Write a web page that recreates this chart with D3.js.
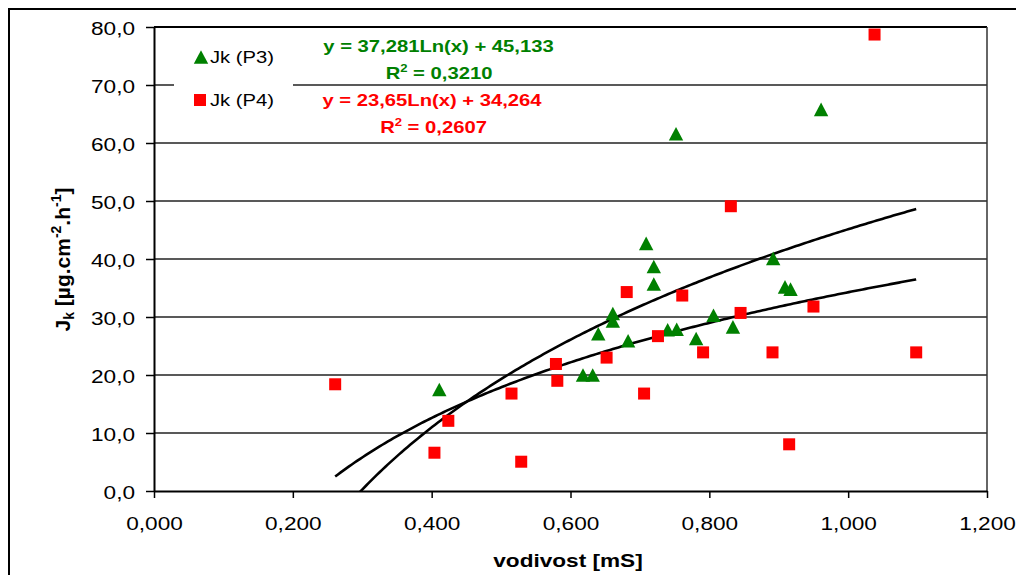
<!DOCTYPE html>
<html><head><meta charset="utf-8">
<script src="https://cdn.jsdelivr.net/npm/d3@7/dist/d3.min.js"></script>
<style>body{margin:0;background:#fff;} svg{display:block;font-family:Arial,"Liberation Sans",sans-serif;}</style>
</head><body><svg id="c" width="1016" height="575"></svg>
<script>
// ---- data ----
const p3x = [0.411,0.618,0.632,0.640,0.661,0.661,0.683,0.709,0.720,0.720,0.740,0.753,0.752,0.781,0.806,0.834,0.892,0.909,0.917,0.961];
const p3y = [17.5,20.0,20.0,27.1,30.6,29.3,25.9,42.7,38.7,35.7,27.8,27.9,61.6,26.3,30.3,28.3,40.1,35.2,34.8,65.8];
const p4x = [0.261,0.404,0.424,0.515,0.529,0.579,0.581,0.652,0.681,0.706,0.726,0.761,0.791,0.831,0.845,0.891,0.915,0.950,1.038,1.098];
const p4y = [18.4,6.6,12.1,16.8,5.05,21.9,19.0,23.0,34.3,16.8,26.7,33.7,23.9,49.1,30.7,23.9,8.05,31.8,78.7,23.9];
const trendP3 = [37.281, 45.133];   // a*ln(x)+b
const trendP4 = [23.65, 34.264];
const trendRange = [0.261, 1.098];
const xTicks = [0,0.2,0.4,0.6,0.8,1.0,1.2];
const xTickLabels = ["0,000","0,200","0,400","0,600","0,800","1,000","1,200"];
const yTicks = [0,10,20,30,40,50,60,70,80];
const yTickLabels = ["0,0","10,0","20,0","30,0","40,0","50,0","60,0","70,0","80,0"];
const seriesNames = ["Jk (P3)","Jk (P4)"];
const eqP3 = ["y = 37,281Ln(x) + 45,133","0,3210"];
const eqP4 = ["y = 23,65Ln(x) + 34,264","0,2607"];
const GREEN = "#008000", RED = "#ff0000";

// ---- layout ----
const svg = d3.select("#c");
const L = 154, R = 987, T = 27, B = 491;
const x = d3.scaleLinear().domain([0,1.2]).range([L,R]);
const y = d3.scaleLinear().domain([0,80]).range([B,T]);
const SX = 1.19; // horizontal text stretch seen in the reference

// outer border
svg.append("rect").attr("x",9).attr("y",9).attr("width",1040).attr("height",600)
  .attr("fill","none").attr("stroke","#000").attr("stroke-width",2);

// gridlines
svg.append("g").selectAll("line").data(yTicks.filter(d=>d>0 && d<80)).join("line")
  .attr("x1",L).attr("x2",R).attr("y1",d=>y(d)).attr("y2",d=>y(d))
  .attr("stroke","#222").attr("stroke-width",1.5);
// plot border top/right
svg.append("line").attr("x1",L).attr("x2",R).attr("y1",T).attr("y2",T).attr("stroke","#000").attr("stroke-width",2);
svg.append("line").attr("x1",R).attr("x2",R).attr("y1",T).attr("y2",B).attr("stroke","#333").attr("stroke-width",1.5);

// axes
const ax = svg.append("g").attr("transform",`translate(0,${B})`)
  .call(d3.axisBottom(x).tickValues(xTicks).tickSize(7).tickSizeOuter(0).tickFormat((d,i)=>xTickLabels[i]));
const ay = svg.append("g").attr("transform",`translate(${L},0)`)
  .call(d3.axisLeft(y).tickValues(yTicks).tickSize(8).tickSizeOuter(0).tickFormat((d,i)=>yTickLabels[i]));
[ax,ay].forEach(g=>{
  g.select(".domain").attr("stroke","#000").attr("stroke-width",2);
  g.selectAll(".tick line").attr("stroke","#000").attr("stroke-width",1.5);
  g.selectAll(".tick text").attr("font-size",19).attr("fill","#000").attr("font-family","Arial, 'Liberation Sans', sans-serif");
});
ax.selectAll(".tick text").attr("y",0).attr("dy",0).attr("transform",`translate(0,39) scale(${SX},1)`);
ay.selectAll(".tick text").attr("x",0).attr("dy",0).attr("transform",`translate(-19,7) scale(${SX},1)`);

// legend background
svg.append("rect").attr("x",174).attr("y",36).attr("width",119).attr("height",82).attr("fill","#fff");

// trend lines
svg.append("clipPath").attr("id","pc").append("rect").attr("x",L).attr("y",T).attr("width",R-L).attr("height",B-T);
const xs = d3.range(trendRange[0], trendRange[1], 0.004).concat([trendRange[1]]);
const line = d3.line().x(d=>x(d[0])).y(d=>y(d[1]));
[trendP3,trendP4].forEach(c=>{
  svg.append("path").attr("clip-path","url(#pc)")
    .attr("d", line(xs.map(v=>[v, c[0]*Math.log(v)+c[1]])))
    .attr("fill","none").attr("stroke","#000").attr("stroke-width",2.6);
});

// markers
const tri = "M0,-6.8L7.2,6.8L-7.2,6.8Z";
svg.append("g").selectAll("path").data(p3x.map((v,i)=>[v,p3y[i]])).join("path")
  .attr("d",tri).attr("transform",d=>`translate(${x(d[0])},${y(d[1])})`).attr("fill",GREEN);
svg.append("g").selectAll("rect").data(p4x.map((v,i)=>[v,p4y[i]])).join("rect")
  .attr("x",d=>x(d[0])-6).attr("y",d=>y(d[1])-6).attr("width",12).attr("height",12).attr("fill",RED);

// helper for stretched text
function stext(px,py,anchor,size,weight,color){
  return svg.append("text").attr("transform",`translate(${px},${py}) scale(${SX},1)`)
    .attr("text-anchor",anchor).attr("font-size",size).attr("font-weight",weight).attr("fill",color);
}
// legend
svg.append("path").attr("d",tri).attr("transform","translate(201,57)").attr("fill",GREEN);
svg.append("rect").attr("x",194).attr("y",94).attr("width",12).attr("height",12).attr("fill",RED);
stext(210,63,"start",17,"normal","#000").text(seriesNames[0]);
stext(210,106,"start",17,"normal","#000").text(seriesNames[1]);

// equations
stext(438.5,52,"middle",17,"bold",GREEN).text(eqP3[0]);
let t = stext(439,79,"middle",17,"bold",GREEN);
t.append("tspan").text("R"); t.append("tspan").attr("font-size",11).attr("dy",-7).text("2");
t.append("tspan").attr("dy",7).text(" = "+eqP3[1]);
stext(432,106,"middle",17,"bold",RED).text(eqP4[0]);
t = stext(433.5,133,"middle",17,"bold",RED);
t.append("tspan").text("R"); t.append("tspan").attr("font-size",11).attr("dy",-7).text("2");
t.append("tspan").attr("dy",7).text(" = "+eqP4[1]);

// axis titles
stext(568,567,"middle",19,"bold","#000").text("vodivost [mS]");
const yt = svg.append("text").attr("transform","translate(70,259.5) rotate(-90)")
  .attr("text-anchor","middle").attr("font-size",21).attr("font-weight","bold").attr("fill","#000");
yt.append("tspan").text("J");
yt.append("tspan").attr("font-size",14).attr("dy",4).text("k");
yt.append("tspan").attr("dy",-4).text(" [µg.cm");
yt.append("tspan").attr("font-size",14).attr("dy",-9).text("-2");
yt.append("tspan").attr("dy",9).text(".h");
yt.append("tspan").attr("font-size",14).attr("dy",-9).text("-1");
yt.append("tspan").attr("dy",9).text("]");
</script></body></html>
